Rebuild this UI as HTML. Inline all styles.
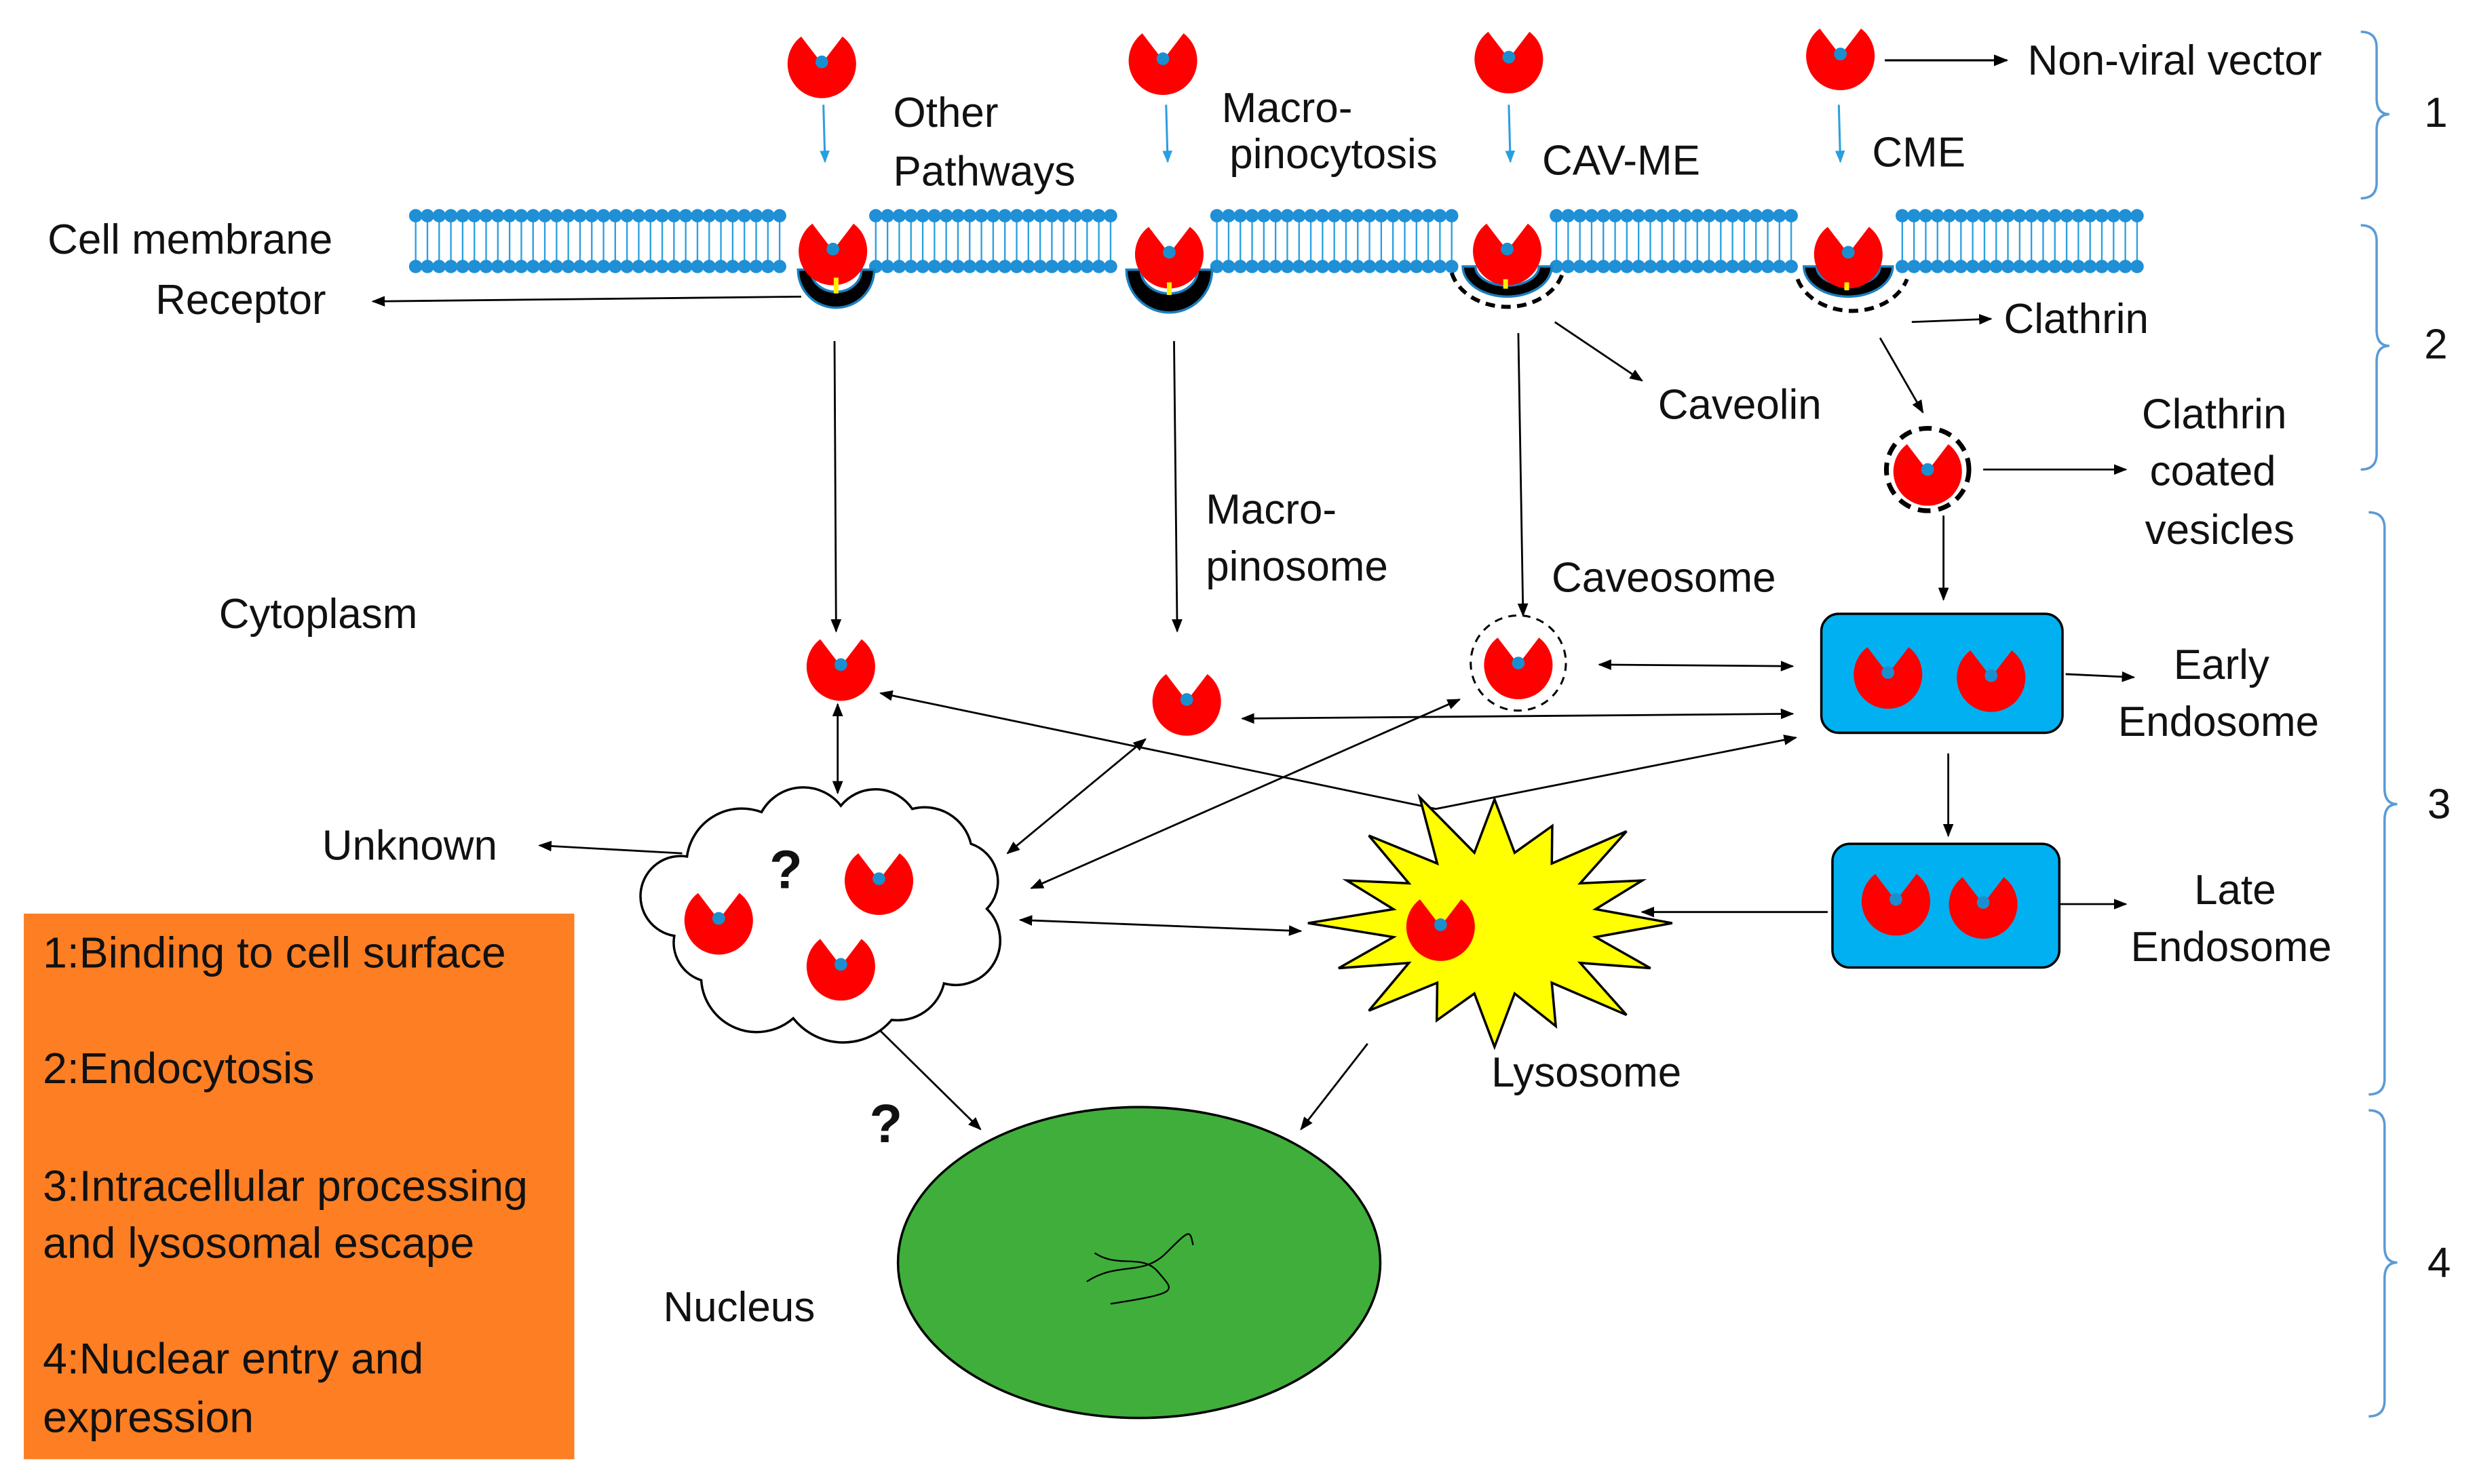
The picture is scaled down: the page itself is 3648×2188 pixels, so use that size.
<!DOCTYPE html>
<html><head><meta charset="utf-8"><style>
html,body{margin:0;padding:0;background:#fff;}
svg{display:block;}
text{font-family:"Liberation Sans",sans-serif;font-size:26.5px;fill:#111;}
</style></head><body>
<svg width="3648" height="2188" viewBox="0 0 1560 935.6" xmlns="http://www.w3.org/2000/svg">
<defs>
<marker id="ah" viewBox="0 0 10 10" refX="9" refY="5" markerWidth="7" markerHeight="7" orient="auto-start-reverse"><path d="M0,1 L10,5 L0,9 z" fill="#000"/></marker>
<marker id="bh" viewBox="0 0 10 10" refX="9" refY="5" markerWidth="6" markerHeight="7" orient="auto"><path d="M0,1 L10,5 L0,9 z" fill="#2a9fe0"/></marker>
<g id="pac"><path d="M0,0 L-13,-17 A21.6,21.6 0 1 0 13,-17 Z" fill="#ff0000"/><circle cx="0" cy="-1" r="4" fill="#1a8fd0"/></g>
</defs>
<rect width="1560" height="936" fill="#fff"/>

<g stroke="#2a9fe0" stroke-width="1" id="lines"></g>
<g id="dots"></g>

<use href="#pac" x="518" y="40"/>
<use href="#pac" x="733" y="38"/>
<use href="#pac" x="951" y="37"/>
<use href="#pac" x="1160" y="35"/>
<g stroke="#2a9fe0" stroke-width="1.3" marker-end="url(#bh)">
<line x1="519" y1="66" x2="520" y2="102"/>
<line x1="735" y1="66" x2="736" y2="102"/>
<line x1="951" y1="66" x2="952" y2="102"/>
<line x1="1159" y1="66" x2="1160" y2="102"/>
</g>
<g stroke="#000" stroke-width="1.3" fill="none" marker-end="url(#ah)">
<line x1="1188" y1="38" x2="1265" y2="38"/>
</g>
<text x="1278" y="47">Non-viral vector</text>
<text x="563" y="80">Other</text>
<text x="563" y="117">Pathways</text>
<text x="770" y="77">Macro-</text>
<text x="775" y="106">pinocytosis</text>
<text x="972" y="110">CAV-ME</text>
<text x="1180" y="105">CME</text>

<g fill="#000" stroke="#1a7fc0" stroke-width="1.5">
<path d="M503,170 A24,24 0 0 0 551,170 L543,170 A16,14 0 0 1 511,170 Z"/>
<path d="M710,170 A26,26 0 0 0 764,170 L755,170 A18,15 0 0 1 719,170 Z"/>
<path d="M922,168 A28,19 0 0 0 978,168 L970,168 A20,12 0 0 1 930,168 Z"/>
<path d="M1137,168 A28,19 0 0 0 1193,168 L1185,168 A20,12 0 0 1 1145,168 Z"/>
</g>
<g fill="none" stroke="#000" stroke-width="2.5" stroke-dasharray="6,4">
<path d="M915,172 A36,28 0 0 0 985,172"/>
<path d="M1133,176 A36,28 0 0 0 1202,176"/>
</g>
<use href="#pac" x="525" y="158"/>
<use href="#pac" x="737" y="160"/>
<use href="#pac" x="950" y="158"/>
<use href="#pac" x="1165" y="160"/>
<g stroke="#ffee00" stroke-width="3">
<line x1="527" y1="175" x2="527" y2="185"/><line x1="737" y1="178" x2="737" y2="186"/><line x1="949" y1="176" x2="949" y2="182"/><line x1="1164" y1="178" x2="1164" y2="183"/>
</g>

<text x="30" y="160">Cell membrane</text>
<text x="98" y="198">Receptor</text>
<g stroke="#000" stroke-width="1.2" fill="none" marker-end="url(#ah)">
<line x1="505" y1="187" x2="235" y2="190"/>
<line x1="1205" y1="203" x2="1255" y2="201"/>
<line x1="980" y1="203" x2="1035" y2="240"/>
<line x1="1185" y1="213" x2="1212" y2="260"/>
<line x1="1250" y1="296" x2="1340" y2="296"/>
<line x1="1225" y1="325" x2="1225" y2="378"/>
<line x1="1302" y1="425" x2="1345" y2="427"/>
<line x1="1228" y1="475" x2="1228" y2="527"/>
<line x1="1298" y1="570" x2="1340" y2="570"/>
<line x1="1152" y1="575" x2="1035" y2="575"/>
<line x1="526" y1="215" x2="527" y2="398"/>
<line x1="740" y1="215" x2="742" y2="398"/>
<line x1="957" y1="210" x2="960" y2="388"/>
<line x1="430" y1="538" x2="340" y2="533"/>
<line x1="555" y1="650" x2="618" y2="712"/>
<line x1="862" y1="658" x2="820" y2="712"/>
</g>
<g stroke="#000" stroke-width="1.2" fill="none" marker-end="url(#ah)" marker-start="url(#ah)">
<line x1="1008" y1="419" x2="1130" y2="420"/>
<line x1="783" y1="453" x2="1130" y2="450"/>
<polyline points="555,437 905,510 1132,465"/>
<line x1="528" y1="444" x2="528" y2="500"/>
<line x1="722" y1="466" x2="635" y2="538"/>
<line x1="920" y1="441" x2="650" y2="560"/>
<line x1="643" y1="580" x2="820" y2="587"/>
</g>
<text x="1263" y="210">Clathrin</text>
<text x="1045" y="264">Caveolin</text>
<g fill="none" stroke="#000" stroke-width="3" stroke-dasharray="8,5"><circle cx="1215" cy="296" r="26"/></g>
<use href="#pac" x="1215" y="297"/>
<text x="1350" y="270">Clathrin</text>
<text x="1355" y="306">coated</text>
<text x="1352" y="343">vesicles</text>

<rect x="1148" y="387" width="152" height="75" rx="11" fill="#00b0f0" stroke="#000" stroke-width="1.5"/>
<use href="#pac" x="1190" y="425"/><use href="#pac" x="1255" y="427"/>
<text x="1370" y="428">Early</text><text x="1335" y="464">Endosome</text>
<rect x="1155" y="532" width="143" height="78" rx="11" fill="#00b0f0" stroke="#000" stroke-width="1.5"/>
<use href="#pac" x="1195" y="568"/><use href="#pac" x="1250" y="570"/>
<text x="1383" y="570">Late</text><text x="1343" y="606">Endosome</text>

<polygon id="star" fill="#ffff00" stroke="#000" stroke-width="1.5" points=""/>
<use href="#pac" x="908" y="584"/>
<text x="940" y="685">Lysosome</text>

<text x="760" y="330">Macro-</text>
<text x="760" y="366">pinosome</text>
<text x="978" y="373">Caveosome</text>
<text x="138" y="396">Cytoplasm</text>
<use href="#pac" x="530" y="420"/>
<use href="#pac" x="748" y="442"/>
<circle cx="957" cy="418" r="30" fill="none" stroke="#000" stroke-width="1.3" stroke-dasharray="5,4"/>
<use href="#pac" x="957" y="419"/>

<path d="M433,540 A35,35 0 0 1 480,512 A30,30 0 0 1 530,508 A28,28 0 0 1 575,510 A30,30 0 0 1 612,532 A25,25 0 0 1 622,573 A28,28 0 0 1 595,620 A30,30 0 0 1 562,643 A40,40 0 0 1 500,642 A35,35 0 0 1 442,618 A25,25 0 0 1 425,590 A22,22 0 0 1 433,540 Z" fill="#fff" stroke="#000" stroke-width="1.5"/>
<use href="#pac" x="453" y="580"/><use href="#pac" x="554" y="555"/><use href="#pac" x="530" y="609"/>
<text x="485" y="560" style="font-size:34px;font-weight:bold">?</text>
<text x="203" y="542">Unknown</text>
<text x="548" y="720" style="font-size:34px;font-weight:bold">?</text>

<ellipse cx="718" cy="796" rx="152" ry="98" fill="#3fae3a" stroke="#000" stroke-width="1.5"/>
<path d="M685,808 C705,795 720,805 735,790 S750,775 752,785 M690,790 C705,800 720,790 730,802 S745,815 700,822" fill="none" stroke="#000" stroke-width="1"/>
<text x="418" y="833">Nucleus</text>

<rect x="15" y="576" width="347" height="344" fill="#fd7e23"/>
<g style="font-size:27.5px">
<text x="27" y="610" style="font-size:27.5px">1:Binding to cell surface</text>
<text x="27" y="683" style="font-size:27.5px">2:Endocytosis</text>
<text x="27" y="757" style="font-size:27.5px">3:Intracellular processing</text>
<text x="27" y="793" style="font-size:27.5px">and lysosomal escape</text>
<text x="27" y="866" style="font-size:27.5px">4:Nuclear entry and</text>
<text x="27" y="903" style="font-size:27.5px">expression</text>
</g>

<g fill="none" stroke="#5b9bd5" stroke-width="1.5">
<path d="M1488,20 Q1498,20 1498,30 L1498,62 Q1498,72 1506,72 Q1498,72 1498,82 L1498,115 Q1498,125 1488,125"/>
<path d="M1488,142 Q1498,142 1498,152 L1498,208 Q1498,218 1506,218 Q1498,218 1498,228 L1498,286 Q1498,296 1488,296"/>
<path d="M1493,323 Q1503,323 1503,333 L1503,497 Q1503,507 1511,507 Q1503,507 1503,517 L1503,680 Q1503,690 1493,690"/>
<path d="M1493,700 Q1503,700 1503,710 L1503,786 Q1503,796 1511,796 Q1503,796 1503,806 L1503,883 Q1503,893 1493,893"/>
</g>
<text x="1528" y="80">1</text><text x="1528" y="226">2</text><text x="1530" y="516">3</text><text x="1530" y="805">4</text>
</svg>
<script>
(function(){
var ns="http://www.w3.org/2000/svg";
var segs=[[258,500],[548,710],[763,923],[977,1135],[1195,1357]];
var L=document.getElementById('lines'),D=document.getElementById('dots');
segs.forEach(function(s){
 for(var x=s[0]+4;x<=s[1]-3;x+=7.4){
  var l=document.createElementNS(ns,'line');l.setAttribute('x1',x);l.setAttribute('x2',x);l.setAttribute('y1',136);l.setAttribute('y2',168);L.appendChild(l);
  [136,168].forEach(function(y){var c=document.createElementNS(ns,'circle');c.setAttribute('cx',x);c.setAttribute('cy',y);c.setAttribute('r',4.2);c.setAttribute('fill','#1f8fd6');D.appendChild(c);});
 }
});
var cx=942,cy=582,n=16,pts=[];
var outer=[1.0,0.85,1.05,0.9,1.0,0.95,1.05,0.9,1.0,0.85,1.0,0.95,1.05,0.9,1.0,1.1];
for(var i=0;i<2*n;i++){
 var a=-Math.PI/2+i*Math.PI/n;
 var f=(i%2==0)?outer[i/2]:0.58;
 pts.push((cx+Math.cos(a)*112*f).toFixed(1)+","+(cy+Math.sin(a)*78*f).toFixed(1));
}
document.getElementById('star').setAttribute('points',pts.join(' '));
})();
</script>
</body></html>
